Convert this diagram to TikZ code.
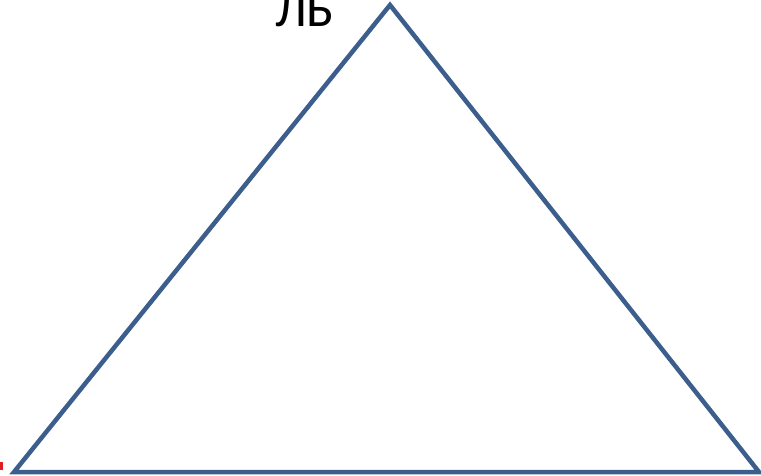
\documentclass[tikz,border=0pt]{standalone}
\usepackage{fontspec}
\setmainfont{Carlito}
\definecolor{edge}{HTML}{3B5E8C}
\definecolor{redtick}{HTML}{E02020}
\tikzset{side/.style={draw=edge,line width=4.5pt,line join=miter}}
\begin{document}
\begin{tikzpicture}[x=1pt,y=-1pt]
  \useasboundingbox (0,0) rectangle (761,476);
  \begin{scope}
    \clip (0,0) rectangle (761,476);
    % vertices of the triangle
    \coordinate (top) at (390,5);
    \coordinate (left) at (14,472);
    \coordinate (right) at (759,472);
    \draw[side] (left) -- (top) -- (right) -- cycle;
    \node[anchor=base,inner sep=0pt,font=\fontsize{52}{52}\selectfont] (lb) at (305,27) {ЛБ};
    \fill[redtick] (0,462) rectangle (3,470);
  \end{scope}
\end{tikzpicture}
\end{document}
